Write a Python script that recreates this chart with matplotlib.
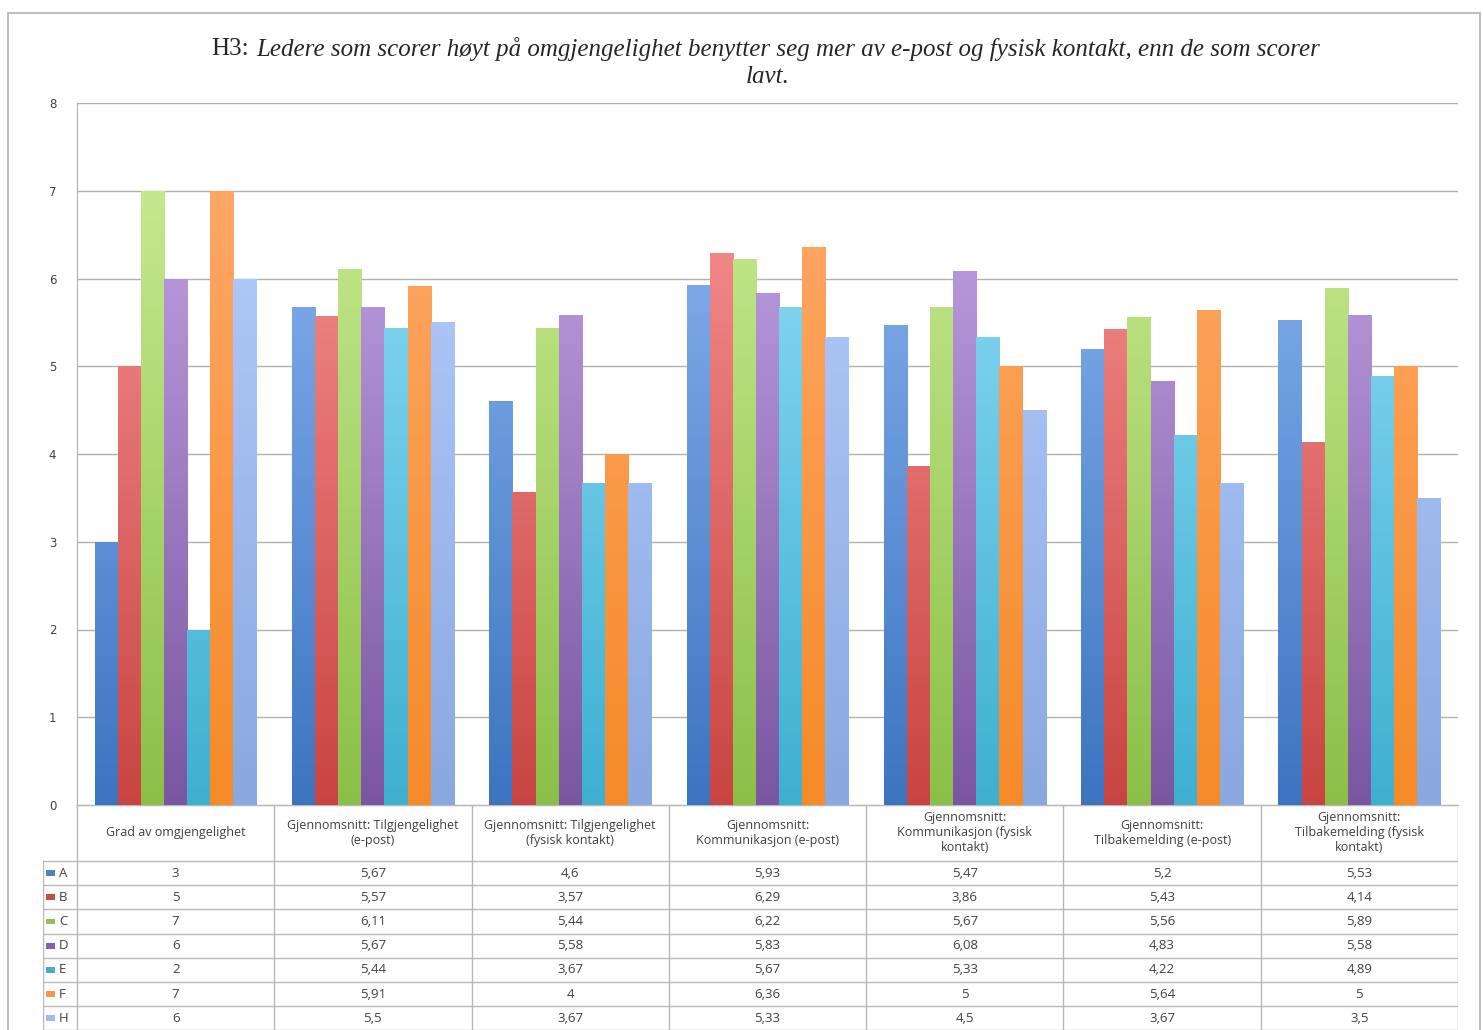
import numpy as np
import matplotlib.pyplot as plt
from matplotlib.colors import LinearSegmentedColormap
from matplotlib.patches import Rectangle

# data
categories = ["Grad av omgjengelighet",
              "Gjennomsnitt: Tilgjengelighet\n(e-post)",
              "Gjennomsnitt: Tilgjengelighet\n(fysisk kontakt)",
              "Gjennomsnitt:\nKommunikasjon (e-post)",
              "Gjennomsnitt:\nKommunikasjon (fysisk\nkontakt)",
              "Gjennomsnitt:\nTilbakemelding (e-post)",
              "Gjennomsnitt:\nTilbakemelding (fysisk\nkontakt)"]
series = ["A", "B", "C", "D", "E", "F", "H"]
A = [3, 5.67, 4.6, 5.93, 5.47, 5.2, 5.53]
B = [5, 5.57, 3.57, 6.29, 3.86, 5.43, 4.14]
C = [7, 6.11, 5.44, 6.22, 5.67, 5.56, 5.89]
D = [6, 5.67, 5.58, 5.83, 6.08, 4.83, 5.58]
E = [2, 5.44, 3.67, 5.67, 5.33, 4.22, 4.89]
F = [7, 5.91, 4, 6.36, 5, 5.64, 5]
H = [6, 5.5, 3.67, 5.33, 4.5, 3.67, 3.5]
values = [A, B, C, D, E, F, H]

# bottom (dark) / top (light) colours of each series
dark = ["#3c74c0", "#c84442", "#8cbf48", "#7a56a0", "#3eb0d0", "#f58a28", "#8aa8e0"]
light = ["#8cb6f2", "#f89494", "#c8ec92", "#c4a6e8", "#92def8", "#ffa96a", "#b6ceff"]
legend_col = ["#4f81bd", "#c0504d", "#9bbb59", "#8064a2", "#4bacc6", "#f79646", "#a5b9e0"]

W, Hh = 1483, 1030
fig = plt.figure(figsize=(W / 100, Hh / 100), dpi=100)

def px_rect(x0, y0, x1, y1):
    return [x0 / W, 1 - y1 / Hh, (x1 - x0) / W, (y1 - y0) / Hh]

# outer frame
fig.patches.append(Rectangle((8 / W, -0.1), (1480 - 8) / W, 1.1 - 13 / Hh,
                             transform=fig.transFigure, fill=False,
                             edgecolor="#b0b0b0", lw=1.2))

x_left, x_right = 77, 1458
ax = fig.add_axes(px_rect(x_left, 103, x_right, 805))
n = len(categories)
ns = len(series)
x = np.arange(n)
group = 0.82
bw = group / ns

for i, s in enumerate(series):
    offs = (i - (ns - 1) / 2) * bw
    bars = ax.bar(x + offs, values[i], width=bw, facecolor="none", edgecolor="none", zorder=3)
    cmap = LinearSegmentedColormap.from_list("g" + s, [dark[i], light[i]])
    grad = np.linspace(0, 1, 256).reshape(-1, 1)
    for b in bars:
        bx = b.get_x()
        bwid = b.get_width()
        im = ax.imshow(grad, cmap=cmap, origin="lower", aspect="auto",
                       extent=(bx, bx + bwid, 0, 7.5), zorder=3, interpolation="bilinear")
        im.set_clip_path(b)

ax.set_xlim(-0.5, n - 0.5)
ax.set_ylim(0, 8)
ax.set_yticks(range(0, 9))
ax.set_xticks([])
ax.yaxis.grid(True, color="#b0b0b0", lw=1.0)
ax.set_axisbelow(True)
for sp in ["top", "right"]:
    ax.spines[sp].set_visible(False)
ax.spines["left"].set_color("#b0b0b0")
ax.spines["bottom"].set_color("#b0b0b0")
ax.tick_params(axis="y", colors="#b0b0b0", labelcolor="#404040", labelsize=8.5,
               length=0, pad=15)

# table below
row_h = 24.2
head_h = 56
tax = fig.add_axes(px_rect(43, 805, x_right, 805 + head_h + 7 * row_h))
leg_w = (x_left - 43) / ((x_right - x_left) / n)
tax.set_xlim(-0.5 - leg_w, n - 0.5)
tot = head_h / row_h + 7
tax.set_ylim(tot, 0)
tax.axis("off")
hr = head_h / row_h
lc = "#b8b8b8"
tc = "#404040"
fs = 9.5
# horizontal lines
tax.plot([-0.5, n - 0.5], [0, 0], color=lc, lw=1)
for r in range(8):
    tax.plot([-0.5 - leg_w, n - 0.5], [hr + r, hr + r], color=lc, lw=1)
# vertical lines
for c in range(n + 1):
    tax.plot([c - 0.5, c - 0.5], [0, tot], color=lc, lw=1)
tax.plot([-0.5 - leg_w, -0.5 - leg_w], [hr, tot], color=lc, lw=1)

for c, cat in enumerate(categories):
    tax.text(c, hr / 2, cat, ha="center", va="center", fontsize=fs - 0.5, color=tc,
             family="Open Sans", linespacing=1.2)
for r, s in enumerate(series):
    yy = hr + r + 0.5
    tax.add_patch(Rectangle((-0.5 - leg_w + 0.015, yy - 0.12), 0.045, 0.24,
                            facecolor=legend_col[r], edgecolor="none"))
    tax.text(-0.5 - leg_w + 0.08, yy, s, ha="left", va="center", fontsize=fs,
             color=tc, family="Open Sans")
    for c in range(n):
        v = values[r][c]
        txt = ("%g" % v).replace(".", ",")
        tax.text(c, yy, txt, ha="center", va="center", fontsize=fs, color=tc,
                 family="Open Sans")

# title
fig.text(249 / W, 1 - 49 / Hh, "H3:", ha="right", va="center", fontsize=18,
         family="Liberation Serif", color="#262626")
fig.text(256 / W, 1 - 49 / Hh,
         "Ledere som scorer høyt på omgjengelighet benytter seg mer av e-post og fysisk kontakt, enn de som scorer",
         ha="left", va="center", fontsize=18, style="italic",
         family="Liberation Serif", color="#262626")
fig.text(768 / W, 1 - 77 / Hh, "lavt.", ha="center", va="center", fontsize=18,
         style="italic", family="Liberation Serif", color="#262626")

fig.savefig("out.png", dpi=100)
